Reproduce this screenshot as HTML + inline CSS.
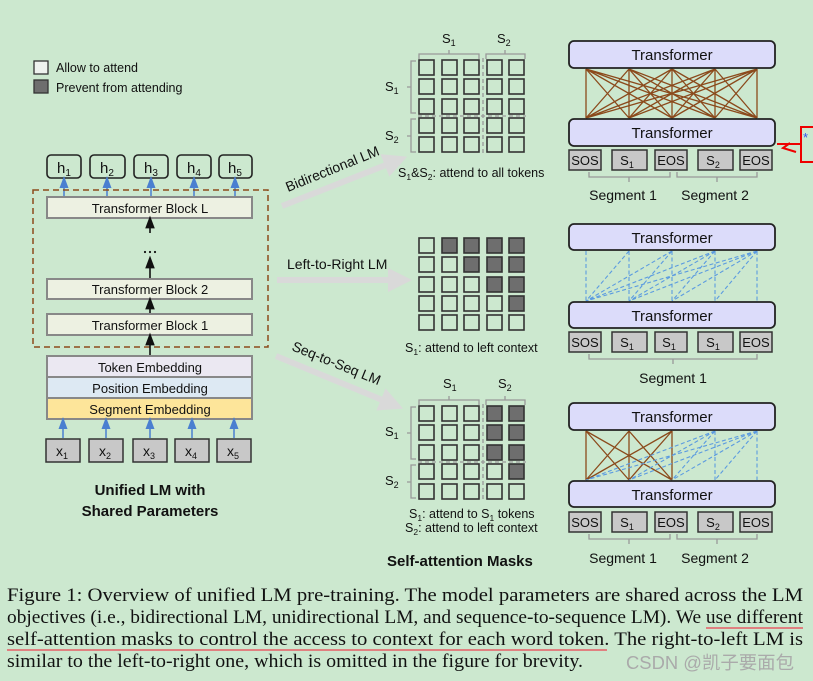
<!DOCTYPE html>
<html><head><meta charset="utf-8"><style>
html,body{margin:0;padding:0;background:#cce8cf;}
svg{display:block;font-family:"Liberation Sans",Arial,sans-serif;}
.cap{font-family:"Liberation Serif","Times New Roman",serif;font-size:19px;fill:#111;}
</style></head><body>
<svg width="813" height="681" viewBox="0 0 813 681" xmlns="http://www.w3.org/2000/svg">
<defs>
<rect id="c" width="15" height="15" fill="none" stroke="#333" stroke-width="1.6"/>
<rect id="d" width="15" height="15" fill="#6e6e6e" stroke="#333" stroke-width="1.6"/>
<marker id="ab" markerWidth="8" markerHeight="8" refX="4" refY="4" orient="auto"><path d="M0,1 L8,4 L0,7 z" fill="#4a7fd0"/></marker>
<marker id="ak" markerWidth="8" markerHeight="8" refX="4" refY="4" orient="auto"><path d="M0,1 L8,4 L0,7 z" fill="#111"/></marker>
<marker id="ag" markerWidth="4" markerHeight="4" refX="2" refY="2" orient="auto"><path d="M0,0 L4,2 L0,4 z" fill="#d9d9d9"/></marker>
</defs>
<rect width="813" height="681" fill="#cce8cf"/>

<rect x="34" y="61" width="14" height="13" fill="#eef2ee" stroke="#333" stroke-width="1.3"/>
<text x="56" y="72" font-size="12.5" fill="#111">Allow to attend</text>
<rect x="34" y="80" width="14" height="13" fill="#6e6e6e" stroke="#333" stroke-width="1.3"/>
<text x="56" y="92" font-size="12.5" fill="#111">Prevent from attending</text>

<g fill="none" stroke="#222" stroke-width="1.6">
<rect x="47" y="155" width="34" height="23" rx="4"/>
<rect x="90" y="155" width="35" height="23" rx="4"/>
<rect x="134" y="155" width="34" height="23" rx="4"/>
<rect x="177" y="155" width="34" height="23" rx="4"/>
<rect x="219" y="155" width="33" height="23" rx="4"/>
</g>
<g font-size="15" fill="#111" text-anchor="middle">
<text x="64" y="173">h<tspan font-size="10" dy="3">1</tspan></text>
<text x="107" y="173">h<tspan font-size="10" dy="3">2</tspan></text>
<text x="151" y="173">h<tspan font-size="10" dy="3">3</tspan></text>
<text x="194" y="173">h<tspan font-size="10" dy="3">4</tspan></text>
<text x="235" y="173">h<tspan font-size="10" dy="3">5</tspan></text>
</g>
<g stroke="#4a7fd0" stroke-width="1.5" marker-end="url(#ab)">
<line x1="64" y1="197" x2="64" y2="182"/><line x1="107" y1="197" x2="107" y2="182"/>
<line x1="151" y1="197" x2="151" y2="182"/><line x1="194" y1="197" x2="194" y2="182"/>
<line x1="235" y1="197" x2="235" y2="182"/>
</g>
<rect x="33" y="190" width="235" height="157" fill="none" stroke="#8b4a1c" stroke-width="1.5" stroke-dasharray="6,4"/>

<g stroke="#888" stroke-width="2">
<rect x="47" y="197" width="205" height="21" fill="#edf1e2"/>
<rect x="47" y="279" width="205" height="20" fill="#edf1e2"/>
<rect x="47" y="314" width="205" height="21" fill="#edf1e2"/>
<rect x="47" y="356" width="205" height="21" fill="#ebe8f2"/>
<rect x="47" y="377" width="205" height="21" fill="#dde9f3"/>
<rect x="47" y="398" width="205" height="21" fill="#fde59a"/>
</g>
<g font-size="13" fill="#111" text-anchor="middle">
<text x="150" y="213">Transformer Block L</text>
<text x="150" y="294">Transformer Block 2</text>
<text x="150" y="330">Transformer Block 1</text>
<text x="150" y="372">Token Embedding</text>
<text x="150" y="393">Position Embedding</text>
<text x="150" y="414">Segment Embedding</text>
</g>
<g fill="#111"><circle cx="145" cy="252" r="1.1"/><circle cx="150" cy="252" r="1.1"/><circle cx="155" cy="252" r="1.1"/></g>
<g stroke="#111" stroke-width="1.6" marker-end="url(#ak)">
<line x1="150" y1="233" x2="150" y2="222"/>
<line x1="150" y1="278" x2="150" y2="262"/>
<line x1="150" y1="313" x2="150" y2="303"/>
<line x1="150" y1="355" x2="150" y2="339"/>
</g>
<g stroke="#4a7fd0" stroke-width="1.5" marker-end="url(#ab)">
<line x1="63" y1="438" x2="63" y2="423"/><line x1="106" y1="438" x2="106" y2="423"/>
<line x1="150" y1="438" x2="150" y2="423"/><line x1="192" y1="438" x2="192" y2="423"/>
<line x1="234" y1="438" x2="234" y2="423"/>
</g>
<g fill="#c8c8c8" stroke="#333" stroke-width="1.5">
<rect x="46" y="439" width="34" height="23"/><rect x="89" y="439" width="34" height="23"/>
<rect x="133" y="439" width="34" height="23"/><rect x="175" y="439" width="34" height="23"/>
<rect x="217" y="439" width="34" height="23"/>
</g>
<g font-size="14" fill="#111" text-anchor="middle">
<text x="62" y="456">x<tspan font-size="9" dy="3">1</tspan></text>
<text x="105" y="456">x<tspan font-size="9" dy="3">2</tspan></text>
<text x="149" y="456">x<tspan font-size="9" dy="3">3</tspan></text>
<text x="191" y="456">x<tspan font-size="9" dy="3">4</tspan></text>
<text x="233" y="456">x<tspan font-size="9" dy="3">5</tspan></text>
</g>
<g font-size="15" font-weight="bold" fill="#111" text-anchor="middle">
<text x="150" y="495">Unified LM with</text>
<text x="150" y="516">Shared Parameters</text>
</g>

<g stroke="#d9d9d9" stroke-width="6" marker-end="url(#ag)">
<line x1="282" y1="206" x2="396" y2="161"/>
<line x1="277" y1="280" x2="400" y2="280"/>
<line x1="276" y1="356" x2="392" y2="404"/>
</g>
<g font-size="14" fill="#111">
<text transform="translate(288,192) rotate(-22)">Bidirectional LM</text>
<text x="287" y="269">Left-to-Right LM</text>
<text transform="translate(291,350) rotate(22)">Seq-to-Seq LM</text>
</g>

<g>
<use href="#c" x="419" y="60"/><use href="#c" x="442" y="60"/><use href="#c" x="464" y="60"/><use href="#c" x="487" y="60"/><use href="#c" x="509" y="60"/>
<use href="#c" x="419" y="79"/><use href="#c" x="442" y="79"/><use href="#c" x="464" y="79"/><use href="#c" x="487" y="79"/><use href="#c" x="509" y="79"/>
<use href="#c" x="419" y="99"/><use href="#c" x="442" y="99"/><use href="#c" x="464" y="99"/><use href="#c" x="487" y="99"/><use href="#c" x="509" y="99"/>
<use href="#c" x="419" y="118"/><use href="#c" x="442" y="118"/><use href="#c" x="464" y="118"/><use href="#c" x="487" y="118"/><use href="#c" x="509" y="118"/>
<use href="#c" x="419" y="137"/><use href="#c" x="442" y="137"/><use href="#c" x="464" y="137"/><use href="#c" x="487" y="137"/><use href="#c" x="509" y="137"/>
</g>
<g fill="none" stroke="#999" stroke-width="1.3">
<path d="M419,59 V54 H479 V59 M449,54 V50"/><path d="M486,59 V54 H525 V59 M505,54 V50"/>
<path d="M416,61 H411 V113 H416 M411,87 H407"/><path d="M416,119 H411 V152 H416 M411,136 H407"/>
<path d="M483,58 V153 M418,116 H526" stroke-dasharray="4,3"/>
</g>
<g font-size="13" fill="#111">
<text x="442" y="43">S<tspan font-size="9" dy="3">1</tspan></text>
<text x="497" y="43">S<tspan font-size="9" dy="3">2</tspan></text>
<text x="385" y="91">S<tspan font-size="9" dy="3">1</tspan></text>
<text x="385" y="140">S<tspan font-size="9" dy="3">2</tspan></text>
<text x="398" y="177" font-size="12.5">S<tspan font-size="8.5" dy="3">1</tspan><tspan dy="-3">&amp;S</tspan><tspan font-size="8.5" dy="3">2</tspan><tspan dy="-3">: attend to all tokens</tspan></text>
</g>

<g>
<use href="#c" x="419" y="238"/><use href="#d" x="442" y="238"/><use href="#d" x="464" y="238"/><use href="#d" x="487" y="238"/><use href="#d" x="509" y="238"/>
<use href="#c" x="419" y="257"/><use href="#c" x="442" y="257"/><use href="#d" x="464" y="257"/><use href="#d" x="487" y="257"/><use href="#d" x="509" y="257"/>
<use href="#c" x="419" y="277"/><use href="#c" x="442" y="277"/><use href="#c" x="464" y="277"/><use href="#d" x="487" y="277"/><use href="#d" x="509" y="277"/>
<use href="#c" x="419" y="296"/><use href="#c" x="442" y="296"/><use href="#c" x="464" y="296"/><use href="#c" x="487" y="296"/><use href="#d" x="509" y="296"/>
<use href="#c" x="419" y="315"/><use href="#c" x="442" y="315"/><use href="#c" x="464" y="315"/><use href="#c" x="487" y="315"/><use href="#c" x="509" y="315"/>
</g>
<text x="405" y="352" font-size="12.5" fill="#111">S<tspan font-size="8.5" dy="3">1</tspan><tspan dy="-3">: attend to left context</tspan></text>

<g>
<use href="#c" x="419" y="406"/><use href="#c" x="442" y="406"/><use href="#c" x="464" y="406"/><use href="#d" x="487" y="406"/><use href="#d" x="509" y="406"/>
<use href="#c" x="419" y="425"/><use href="#c" x="442" y="425"/><use href="#c" x="464" y="425"/><use href="#d" x="487" y="425"/><use href="#d" x="509" y="425"/>
<use href="#c" x="419" y="445"/><use href="#c" x="442" y="445"/><use href="#c" x="464" y="445"/><use href="#d" x="487" y="445"/><use href="#d" x="509" y="445"/>
<use href="#c" x="419" y="464"/><use href="#c" x="442" y="464"/><use href="#c" x="464" y="464"/><use href="#c" x="487" y="464"/><use href="#d" x="509" y="464"/>
<use href="#c" x="419" y="484"/><use href="#c" x="442" y="484"/><use href="#c" x="464" y="484"/><use href="#c" x="487" y="484"/><use href="#c" x="509" y="484"/>
</g>
<g fill="none" stroke="#999" stroke-width="1.3">
<path d="M419,405 V400 H479 V405 M449,400 V396"/><path d="M486,405 V400 H525 V405 M505,400 V396"/>
<path d="M416,407 H411 V459 H416 M411,433 H407"/><path d="M416,465 H411 V498 H416 M411,482 H407"/>
<path d="M483,404 V499 M418,462 H526" stroke-dasharray="4,3"/>
</g>
<g font-size="13" fill="#111">
<text x="443" y="388">S<tspan font-size="9" dy="3">1</tspan></text>
<text x="498" y="388">S<tspan font-size="9" dy="3">2</tspan></text>
<text x="385" y="436">S<tspan font-size="9" dy="3">1</tspan></text>
<text x="385" y="485">S<tspan font-size="9" dy="3">2</tspan></text>
</g>
<g font-size="12.5" fill="#111">
<text x="409" y="518">S<tspan font-size="8.5" dy="3">1</tspan><tspan dy="-3">: attend to S</tspan><tspan font-size="8.5" dy="3">1</tspan><tspan dy="-3"> tokens</tspan></text>
<text x="405" y="532">S<tspan font-size="8.5" dy="3">2</tspan><tspan dy="-3">: attend to left context</tspan></text>
</g>
<text x="387" y="566" font-size="15" font-weight="bold" fill="#111">Self-attention Masks</text>

<g stroke="#8b4a1c" stroke-width="1.3">
<path d="M586,69 L586,118 M586,69 L629,118 M586,69 L672,118 M586,69 L715,118 M586,69 L757,118
M629,69 L586,118 M629,69 L629,118 M629,69 L672,118 M629,69 L715,118 M629,69 L757,118
M672,69 L586,118 M672,69 L629,118 M672,69 L672,118 M672,69 L715,118 M672,69 L757,118
M715,69 L586,118 M715,69 L629,118 M715,69 L672,118 M715,69 L715,118 M715,69 L757,118
M757,69 L586,118 M757,69 L629,118 M757,69 L672,118 M757,69 L715,118 M757,69 L757,118"/>
</g>
<g stroke="#5b9be0" stroke-width="1.1" stroke-dasharray="4,2.5" fill="none">
<path d="M586,251 L586,301 M629,251 L586,301 M629,251 L629,301 M672,251 L586,301 M672,251 L629,301 M672,251 L672,301
M715,251 L586,301 M715,251 L629,301 M715,251 L672,301 M715,251 L715,301
M757,251 L586,301 M757,251 L629,301 M757,251 L672,301 M757,251 L715,301 M757,251 L757,301"/>
</g>
<g stroke="#8b4a1c" stroke-width="1.3">
<path d="M586,431 L586,480 M586,431 L629,480 M586,431 L672,480 M629,431 L586,480 M629,431 L629,480 M629,431 L672,480 M672,431 L586,480 M672,431 L629,480 M672,431 L672,480"/>
</g>
<g stroke="#5b9be0" stroke-width="1.1" stroke-dasharray="4,2.5" fill="none">
<path d="M715,431 L586,480 M715,431 L629,480 M715,431 L672,480 M715,431 L715,480
M757,431 L586,480 M757,431 L629,480 M757,431 L672,480 M757,431 L715,480 M757,431 L757,480"/>
</g>

<g fill="#dcdcfa" stroke="#222" stroke-width="1.8">
<rect x="569" y="41" width="206" height="27" rx="5"/>
<rect x="569" y="119" width="206" height="27" rx="5"/>
<rect x="569" y="224" width="206" height="26" rx="5"/>
<rect x="569" y="302" width="206" height="26" rx="5"/>
<rect x="569" y="403" width="206" height="27" rx="5"/>
<rect x="569" y="481" width="206" height="26" rx="5"/>
</g>
<g font-size="15" fill="#111" text-anchor="middle">
<text x="672" y="60">Transformer</text>
<text x="672" y="138">Transformer</text>
<text x="672" y="243">Transformer</text>
<text x="672" y="321">Transformer</text>
<text x="672" y="422">Transformer</text>
<text x="672" y="500">Transformer</text>
</g>

<g fill="#c8c8c8" stroke="#333" stroke-width="1.5">
<rect x="569" y="150" width="32" height="20"/><rect x="612" y="150" width="35" height="20"/><rect x="655" y="150" width="32" height="20"/><rect x="698" y="150" width="35" height="20"/><rect x="740" y="150" width="32" height="20"/>
<rect x="569" y="332" width="32" height="20"/><rect x="612" y="332" width="35" height="20"/><rect x="655" y="332" width="32" height="20"/><rect x="698" y="332" width="35" height="20"/><rect x="740" y="332" width="32" height="20"/>
<rect x="569" y="512" width="32" height="20"/><rect x="612" y="512" width="35" height="20"/><rect x="655" y="512" width="32" height="20"/><rect x="698" y="512" width="35" height="20"/><rect x="740" y="512" width="32" height="20"/>
</g>
<g font-size="13" fill="#111" text-anchor="middle">
<text x="585" y="165">SOS</text><text x="627" y="165">S<tspan font-size="9" dy="3">1</tspan></text><text x="671" y="165">EOS</text><text x="713" y="165">S<tspan font-size="9" dy="3">2</tspan></text><text x="756" y="165">EOS</text>
<text x="585" y="347">SOS</text><text x="627" y="347">S<tspan font-size="9" dy="3">1</tspan></text><text x="669" y="347">S<tspan font-size="9" dy="3">1</tspan></text><text x="713" y="347">S<tspan font-size="9" dy="3">1</tspan></text><text x="756" y="347">EOS</text>
<text x="585" y="527">SOS</text><text x="627" y="527">S<tspan font-size="9" dy="3">1</tspan></text><text x="671" y="527">EOS</text><text x="713" y="527">S<tspan font-size="9" dy="3">2</tspan></text><text x="756" y="527">EOS</text>
</g>
<g fill="none" stroke="#999" stroke-width="1.3">
<path d="M589,172 V177 H670 V172 M629,177 V182"/><path d="M677,172 V177 H757 V172 M717,177 V182"/>
<path d="M589,354 V359 H757 V354 M673,359 V364"/>
<path d="M589,534 V539 H670 V534 M629,539 V544"/><path d="M677,534 V539 H757 V534 M717,539 V544"/>
</g>
<g font-size="14" fill="#111" text-anchor="middle">
<text x="623" y="200">Segment 1</text><text x="715" y="200">Segment 2</text>
<text x="673" y="383">Segment 1</text>
<text x="623" y="563">Segment 1</text><text x="715" y="563">Segment 2</text>
</g>

<rect x="801" y="127" width="14" height="35" fill="none" stroke="#e00" stroke-width="2"/>
<path d="M777,144 H801 M790,143 L783,148 L796,152" fill="none" stroke="#e00" stroke-width="2"/>
<text x="803" y="142" font-size="13" fill="#3355ee">*</text>

<g class="cap">
<text x="7" y="601" textLength="796" lengthAdjust="spacingAndGlyphs">Figure 1: Overview of unified LM pre-training. The model parameters are shared across the LM</text>
<text x="7" y="623" textLength="796" lengthAdjust="spacingAndGlyphs">objectives (i.e., bidirectional LM, unidirectional LM, and sequence-to-sequence LM). We use different</text>
<text x="7" y="645" textLength="796" lengthAdjust="spacingAndGlyphs">self-attention masks to control the access to context for each word token. The right-to-left LM is</text>
<text x="7" y="667" textLength="576" lengthAdjust="spacingAndGlyphs">similar to the left-to-right one, which is omitted in the figure for brevity.</text>
</g>
<path d="M706,628 H803 M7,650 H607" stroke="#e08080" stroke-width="2" fill="none"/>
<text x="626" y="669" font-size="18" fill="#aaa" textLength="168" lengthAdjust="spacingAndGlyphs" font-family="'Liberation Sans','Noto Sans CJK SC',sans-serif">CSDN @凯子要面包</text>
</svg>
</body></html>
